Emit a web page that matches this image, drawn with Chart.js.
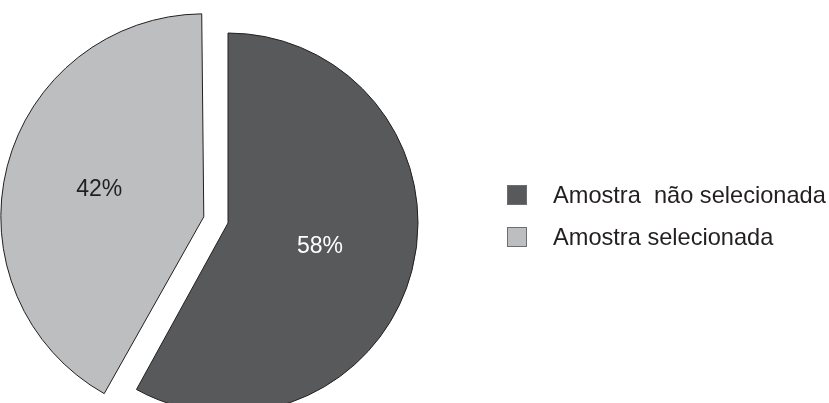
<!DOCTYPE html>
<html>
<head>
<meta charset="utf-8">
<script src="https://cdn.jsdelivr.net/npm/chart.js@4/dist/chart.umd.min.js"></script>
<style>
  html, body { margin: 0; padding: 0; background: #fff; overflow: hidden; }
  #wrap { position: relative; width: 829px; height: 403px; }
</style>
</head>
<body>
<div id="wrap"><canvas id="pieChart"></canvas></div>
<script>
// Chart data
const categories = ["Amostra  não selecionada", "Amostra selecionada"];
const percentages = [58, 42];
const sliceColors = ["#58595b", "#bcbec0"];
const labelColors = ["#ffffff", "#231f20"];
const sliceOffsets = [0, 100];

const FONT = "'Liberation Sans', Arial, Helvetica, sans-serif";

// same shift Chart.js applies to an exploded arc
function arcShift(arc, offset) {
  const fix = 1 - Math.sin(Math.min(Math.PI, arc.circumference || 0));
  return (offset / 4) * (1 + fix);
}

// Percent labels inside slices
const sliceLabels = {
  id: "sliceLabels",
  afterDatasetsDraw(chart) {
    const ctx = chart.ctx;
    const meta = chart.getDatasetMeta(0);
    ctx.save();
    ctx.font = "23px " + FONT;
    ctx.textAlign = "center";
    ctx.textBaseline = "middle";
    meta.data.forEach((arc, i) => {
      const mid = (arc.startAngle + arc.endAngle) / 2;
      const dist = arcShift(arc, sliceOffsets[i]) + arc.outerRadius * 0.5;
      ctx.fillStyle = labelColors[i];
      ctx.fillText(percentages[i] + "%", arc.x + Math.cos(mid) * dist, arc.y + Math.sin(mid) * dist);
    });
    ctx.restore();
  }
};

// Legend on the right, drawn on the canvas
const sideLegend = {
  id: "sideLegend",
  afterDraw(chart) {
    const ctx = chart.ctx;
    ctx.save();
    ctx.font = "23.6px " + FONT;
    ctx.textBaseline = "middle";
    ctx.textAlign = "left";
    categories.forEach((name, i) => {
      const y = 195 + i * 42;
      ctx.fillStyle = sliceColors[i];
      ctx.fillRect(507, y - 10, 20, 20);
      ctx.strokeStyle = "#6d6e71";
      ctx.lineWidth = 1;
      ctx.strokeRect(507.5, y - 9.5, 19, 19);
      ctx.fillStyle = "#231f20";
      ctx.fillText(name, 553, y + 1);
    });
    ctx.restore();
  }
};

const config = {
  type: "pie",
  data: {
    labels: categories,
    datasets: [{
      data: percentages,
      backgroundColor: sliceColors,
      borderColor: "#231f20",
      borderWidth: 1,
      offset: sliceOffsets,
      hoverOffset: 0,
    }],
  },
  options: {
    responsive: true,
    maintainAspectRatio: false,
    animation: false,
    events: [],
    radius: 190,
    layout: {
      padding: { left: 0, right: 373, top: 43, bottom: 0 },
    },
    plugins: {
      legend: { display: false },
      tooltip: { enabled: false },
    },
  },
  plugins: [sliceLabels, sideLegend],
};

const pieChart = new Chart(document.getElementById("pieChart"), config);
</script>
</body>
</html>
